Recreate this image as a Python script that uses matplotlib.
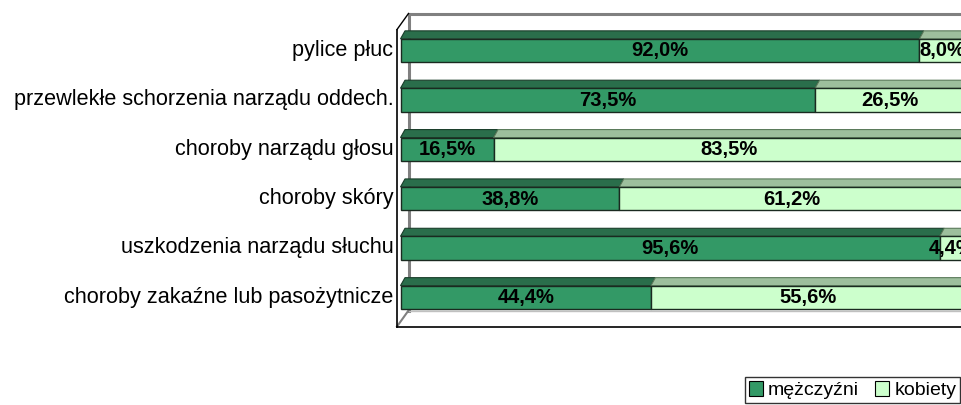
import matplotlib
matplotlib.use("Agg")
import matplotlib.pyplot as plt
from matplotlib.patches import Polygon, Patch
import numpy as np

plt.rcParams['font.family'] = ['Liberation Sans', 'DejaVu Sans']

categories = [
    "pylice płuc",
    "przewlekłe schorzenia narządu oddech.",
    "choroby narządu głosu",
    "choroby skóry",
    "uszkodzenia narządu słuchu",
    "choroby zakaźne lub pasożytnicze",
]
men = [92.0, 73.5, 16.5, 38.8, 95.6, 44.4]
women = [8.0, 26.5, 83.5, 61.2, 4.4, 55.6]
series_names = ["mężczyźni", "kobiety"]

front_cols = ["#339966", "#CCFFCC"]
top_cols = ["#2A6E4B", "#9DBF9D"]

W, H = 962, 405
fig = plt.figure(figsize=(W / 100, H / 100), dpi=100)
ax = fig.add_axes([0, 0, 1, 1])
px_per_pct = 5.64
px_per_row = 49.36
x0_px = 400.5
y0_px = 50.5
ax.set_xlim(-x0_px / px_per_pct, (W - x0_px) / px_per_pct)
ax.set_ylim((H - y0_px) / px_per_row, -y0_px / px_per_row)
ax.axis('off')

n = len(categories)
rows = np.arange(n)
bar_h = 23.3 / px_per_row
tdx = 4.5 / px_per_pct
tdy = 8.0 / px_per_row
wdx = 11.5 / px_per_pct
wdy = 16.0 / px_per_row

# walls
front_left = -3.5 / px_per_pct
front_bottom = (326.5 - y0_px) / px_per_row
back_top = (13.5 - y0_px) / px_per_row
back_left = front_left + wdx
back_bottom = front_bottom - wdy
xmax = (W + 20 - x0_px) / px_per_pct
gray = "#808080"
ax.plot([back_left, back_left], [back_top, back_bottom], color=gray, lw=2.2, zorder=1)
ax.plot([back_left, xmax], [back_top, back_top], color=gray, lw=2.2, zorder=1)
ax.plot([back_left, xmax], [back_bottom, back_bottom], color="#c0c0c0", lw=1.0, zorder=1)
ax.plot([front_left, back_left], [back_top + wdy, back_top], color="black", lw=1.0, zorder=1)
ax.plot([front_left, back_left], [front_bottom, back_bottom], color=gray, lw=1.5, zorder=1)
ax.plot([front_left, front_left], [back_top + wdy, front_bottom], color="black", lw=1.2, zorder=5)
ax.plot([front_left, xmax], [front_bottom, front_bottom], color="black", lw=1.2, zorder=5)

# bars
for i in rows:
    segs = [(0.0, men[i]), (men[i], women[i])]
    top = i - bar_h / 2
    for k, (left, w) in enumerate(segs):
        poly = Polygon([(left, top), (left + tdx, top - tdy), (left + w + tdx, top - tdy),
                        (left + w, top)], closed=True, facecolor=top_cols[k],
                       edgecolor="#1a3d2a" if k == 0 else "#5a7a5a", lw=0.8, zorder=3)
        ax.add_patch(poly)
    for k, (left, w) in enumerate(segs):
        ax.barh(i, w, left=left, height=bar_h, color=front_cols[k], edgecolor="#1a2a20",
                lw=1.0, zorder=4)
        ax.text(left + w / 2, i + 0.01, f"{w:.1f}%".replace('.', ','), ha='center', va='center',
                fontsize=14.5, fontweight='bold', color='black', zorder=6)
    ax.text(front_left - 3.5 / px_per_pct, i, categories[i], ha='right', va='center',
            fontsize=15.6, color='black', zorder=6)

handles = [Patch(facecolor=front_cols[k], edgecolor='black', lw=0.8) for k in range(2)]
leg = fig.legend(handles, series_names, loc='lower right', bbox_to_anchor=(1.0, 0.0),
                 ncol=2, fontsize=14, frameon=True, fancybox=False, edgecolor='black',
                 handlelength=0.75, handleheight=0.75, handletextpad=0.25, columnspacing=0.8,
                 borderpad=0.2, borderaxespad=0.1)
leg.get_frame().set_linewidth(1.0)

fig.savefig("out.png", dpi=100, facecolor='white')
